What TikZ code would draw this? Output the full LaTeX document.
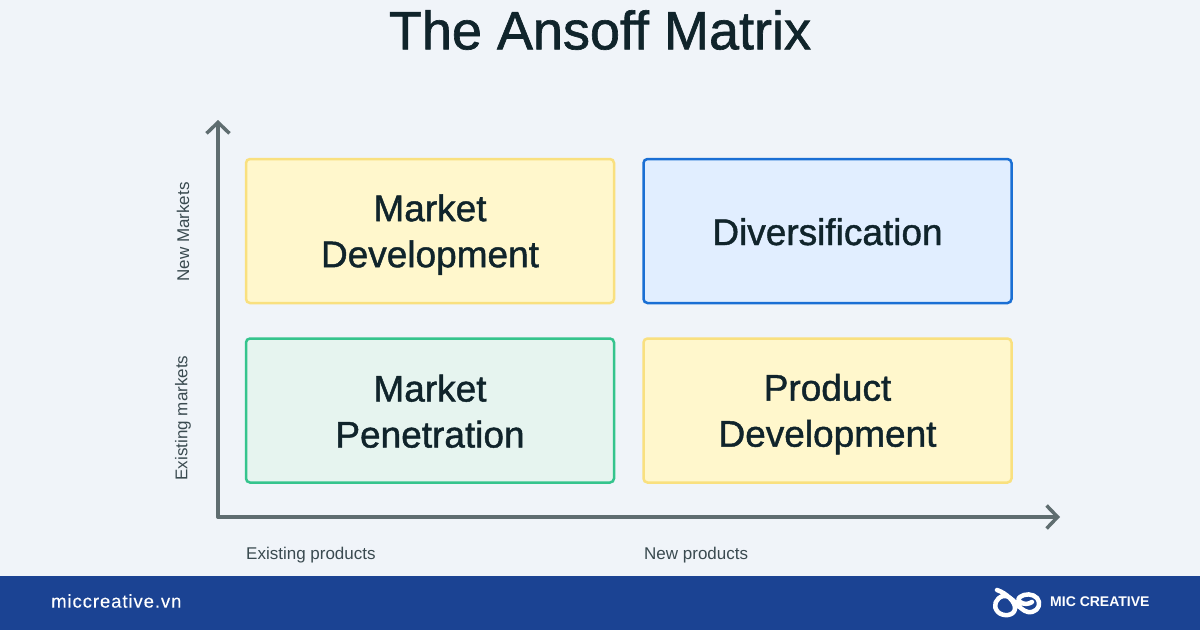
\documentclass[tikz,border=0pt]{standalone}
\usepackage{fontspec}
\setmainfont{Liberation Sans}
\newfontfamily\medfont{Liberation Sans}[FakeBold=1.2]
\newfontfamily\sitefont{Liberation Sans}[LetterSpace=5,FakeBold=0.2]
\newfontfamily\brandfont{Liberation Sans Bold}
\usetikzlibrary{arrows.meta}
\definecolor{pagebg}{HTML}{F0F4F9}
\definecolor{titleink}{HTML}{10242B}
\definecolor{labelink}{HTML}{3A4A50}
\definecolor{axisgray}{HTML}{5F6D70}
\definecolor{footblue}{HTML}{1B4393}
\definecolor{yellowfill}{HTML}{FFF7CC}
\definecolor{yellowline}{HTML}{F9E07F}
\definecolor{bluefill}{HTML}{E1EEFF}
\definecolor{blueline}{HTML}{1A6FD4}
\definecolor{greenfill}{HTML}{E6F4EF}
\definecolor{greenline}{HTML}{35C48D}
\newcommand{\qs}{\rule[-6pt]{0pt}{40pt}}
\tikzset{
  quad/.style={draw, line width=2.5pt, rounded corners=4pt, minimum width=368pt, minimum height=144pt,
    align=center, text=titleink, font=\medfont\fontsize{37}{46}\selectfont, inner sep=0pt},
  axislabel/.style={text=labelink, font=\fontsize{17}{19}\selectfont, inner sep=0pt},
  axisline/.style={draw=axisgray, line width=3.5pt, line cap=round, line join=round,
    -{Straight Barb[length=11pt, width=23pt, line width=3.5pt]}}
}
\begin{document}
\begin{tikzpicture}[x=1pt,y=-1pt]
\useasboundingbox (0,0) rectangle (1200,630);
\fill[pagebg] (0,0) rectangle (1200,630);
\fill[footblue] (0,576) rectangle (1200,630);

\node[text=titleink, font=\medfont\fontsize{54}{60}\selectfont] (title) at (600,30) {The Ansoff Matrix};

\node[quad, fill=yellowfill, draw=yellowline] (mdev) at (430,231) {\qs Market\\\qs Development};
\node[quad, fill=bluefill, draw=blueline] (divers) at (827.5,231) {\qs Diversification};
\node[quad, fill=greenfill, draw=greenline] (mpen) at (430,410.5) {\qs Market\\\qs Penetration};
\node[quad, fill=yellowfill, draw=yellowline] (pdev) at (827.5,410.5) {\qs Product\\\qs Development};

\coordinate (origin) at (218,517);
\coordinate (ytop) at (218,120);
\coordinate (xend) at (1060,517);
\draw[axisline] (origin) -- (ytop);
\draw[axisline] (origin) -- (xend);

\node[axislabel, rotate=90] (newm) at (183,232) {New Markets};
\node[axislabel, rotate=90] (exm) at (183,418) {Existing markets};
\node[axislabel, anchor=west] (exp) at (246,555.5) {Existing products};
\node[axislabel, anchor=west] (newp) at (644,555.5) {New products};

\node[text=white, anchor=west, inner sep=0pt, font=\sitefont\fontsize{18.5}{20}\selectfont] (site) at (51,601) {miccreative.vn};
\node[text=white, anchor=west, inner sep=0pt, font=\brandfont\fontsize{14}{18}\selectfont] (brand) at (1050,602) {MIC CREATIVE};

% logo
\draw[white, line width=4.5pt, line cap=round, line join=round]
  (997,590) .. controls (1006,593) and (1016,602) .. (1015,609)
  .. controls (1014,616) and (1003,617) .. (998,612)
  .. controls (992,606) and (996,598) .. (1003,596)
  .. controls (1012,594) and (1018,610) .. (1028,612)
  .. controls (1035,613) and (1040,608) .. (1039,602)
  .. controls (1038,596) and (1030,593) .. (1024,595)
  .. controls (1018,597) and (1017,600) .. (1020,602)
  .. controls (1024,605) and (1029,604) .. (1032,602);
\end{tikzpicture}
\end{document}
